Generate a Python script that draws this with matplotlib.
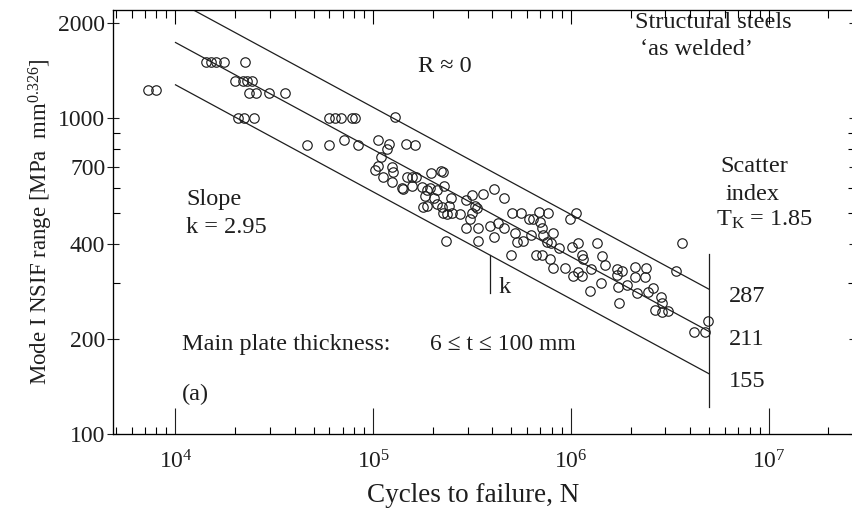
import numpy as np
import matplotlib
matplotlib.use("Agg")
import matplotlib.pyplot as plt
from matplotlib.ticker import FixedLocator, NullFormatter, LogLocator

plt.rcParams['font.family'] = ['Liberation Serif', 'DejaVu Serif']
plt.rcParams['mathtext.fontset'] = 'custom'
plt.rcParams['mathtext.rm'] = 'Liberation Serif'
plt.rcParams['mathtext.it'] = 'Liberation Serif:italic'

# test data: cycles to failure and NSIF range
cycles = [7.26e3, 7.97e3, 1.426e4, 1.512e4, 1.603e4, 1.759e4, 2.247e4, 2.0e4, 2.195e4, 2.3e4,
          2.437e4, 2.354e4, 2.554e4, 2.972e4, 3.581e4, 2.071e4, 2.221e4, 2.495e4, 4.625e4, 5.975e4,
          6.41e4, 6.873e4, 7.81e4, 8.088e4, 5.975e4, 7.118e4, 8.378e4, 1.057e5, 1.289e5, 1.202e5,
          1.174e5, 1.095e5, 1.021e5, 1.057e5, 1.121e5, 1.245e5, 1.259e5, 1.245e5, 1.465e5, 1.627e5,
          1.482e5, 1.571e5, 1.646e5, 1.398e5, 1.415e5, 1.571e5, 1.96e5, 2.202e5, 2.254e5, 1.766e5,
          1.871e5, 1.938e5, 2.102e5, 2.281e5, 1.828e5, 2.03e5, 2.475e5, 1.786e5, 1.871e5, 2.102e5,
          2.228e5, 2.418e5, 2.254e5, 2.362e5, 2.503e5, 2.748e5, 2.947e5, 3.16e5, 3.592e5, 4.083e5,
          4.587e5, 3.272e5, 3.35e5, 3.16e5, 3.087e5, 2.947e5, 3.388e5, 3.896e5, 4.278e5, 4.587e5,
          2.335e5, 3.388e5, 4.083e5, 4.977e5, 5.035e5, 5.592e5, 6.138e5, 6.431e5, 6.897e5, 7.658e5,
          6.978e5, 5.214e5, 5.337e5, 5.723e5, 6.283e5, 7.142e5, 7.226e5, 8.118e5, 7.569e5, 7.931e5,
          6.66e5, 7.142e5, 7.839e5, 8.7e5, 1.013e6, 1.086e6, 1.138e6, 1.151e6, 1.355e6, 1.437e6,
          1.487e6, 9.894e5, 1.061e6, 8.118e5, 9.335e5, 1.025e6, 1.086e6, 1.138e6, 1.264e6, 1.711e6,
          1.813e6, 1.711e6, 2.11e6, 2.398e6, 2.11e6, 2.37e6, 1.42e6, 1.249e6, 1.731e6, 1.921e6,
          1.751e6, 2.16e6, 2.455e6, 2.601e6, 2.855e6, 2.888e6, 2.662e6, 2.888e6, 3.098e6, 3.647e6,
          3.401e6, 4.195e6, 4.766e6, 4.936e6]
nsif = [1225, 1225, 1500, 1500, 1500, 1500, 1500, 1310, 1310, 1310,
        1310, 1200, 1200, 1200, 1200, 1000, 1000, 1000, 821, 1000,
        1000, 1000, 1000, 1000, 821, 852, 821, 852, 1007, 827,
        798, 753, 685, 705, 651, 700, 675, 627, 827, 821,
        651, 651, 651, 600, 596, 609, 670, 680, 675, 605,
        592, 600, 592, 609, 567, 558, 558, 523, 527, 534,
        523, 527, 500, 497, 500, 497, 550, 571, 575, 596,
        558, 527, 519, 500, 479, 449, 449, 455, 465, 449,
        408, 408, 420, 369, 500, 500, 479, 479, 504, 500,
        469, 433, 405, 408, 426, 449, 426, 433, 405, 402,
        369, 369, 358, 388, 391, 402, 369, 358, 402, 366,
        343, 479, 500, 335, 335, 316, 326, 316, 333, 333,
        328, 319, 338, 335, 314, 314, 300, 284, 292, 296,
        260, 279, 281, 290, 271, 260, 247, 243, 245, 402,
        328, 210, 210, 228]

# scatter band: values at N = 5e6, slope k
band_ref_N = 5e6
band_values = [287, 211, 155]
band_labels = ['287', '211', '155']
slope_k = 2.95
N_start = 1e4

fig = plt.figure(figsize=(8.53, 5.08), dpi=100)
ax = fig.add_axes([113 / 853, 74 / 508, 742 / 853, 424 / 508])
ax.set_xscale('log')
ax.set_yscale('log')
ax.set_xlim(4830, 2.73e7)
ax.set_ylim(100, 2198)

ink = '#1e1e1e'
ax.plot(cycles, nsif, 'o', ms=6.8, mfc='none', mec=ink, mew=0.85, zorder=3)

Nline = np.array([N_start, band_ref_N])
for val in band_values:
    ax.plot(Nline, val * (band_ref_N / Nline) ** (1 / slope_k), color=ink, lw=0.9)

# vertical line at end of band
ax.plot([band_ref_N, band_ref_N], [122, 370], color=ink, lw=0.9)
# slope marker
Nk = 3.9e5
ax.plot([Nk, Nk], [279, band_values[2] * (band_ref_N / Nk) ** (1 / slope_k)], color=ink, lw=0.9)

fs = 17.5
tkw = dict(transform=ax.transAxes, fontsize=fs, va='baseline', color=ink)
ax.text(0.7035, 0.958, 'Structural steels', **tkw)
ax.text(0.710, 0.894, '\u2018as welded\u2019', **tkw)
ax.text(0.411, 0.854, 'R \u2248 0', **tkw)
ax.text(0.818, 0.618, 'Scatter', **tkw)
ax.text(0.826, 0.552, 'index', **tkw)
ax.text(0.8127, 0.4906, r'T$_\mathrm{K}$ = 1.85', **tkw)
ax.text(0.0984, 0.540, 'Slope', **tkw)
ax.text(0.0984, 0.474, 'k = 2.95', **tkw)
ax.text(0.093, 0.198, 'Main plate thickness:', **tkw)
ax.text(0.427, 0.198, '6 \u2264 t \u2264 100 mm', fontsize=17, transform=ax.transAxes,
        va='baseline', color=ink)
ax.text(0.093, 0.080, '(a)', **tkw)
ax.text(0.519, 0.3325, 'k', **tkw)
for lab, fy in zip(band_labels, [0.311, 0.210, 0.111]):
    ax.text(0.830, fy, lab, **tkw)

# axes, ticks
ax.xaxis.set_major_locator(LogLocator(base=10, numticks=10))
ax.xaxis.set_minor_locator(LogLocator(base=10, subs=np.arange(2, 10), numticks=20))
ax.xaxis.set_minor_formatter(NullFormatter())
ax.yaxis.set_major_locator(FixedLocator([100, 200, 400, 700, 1000, 2000]))
ax.yaxis.set_minor_locator(FixedLocator([300, 500, 600, 800, 900]))
ax.yaxis.set_major_formatter(plt.FuncFormatter(lambda v, p: '%d' % v))
ax.yaxis.set_minor_formatter(NullFormatter())

ax.tick_params(axis='x', which='major', direction='in', length=19, width=0.8, labelsize=17, pad=12, colors=ink)
ax.tick_params(axis='x', which='minor', direction='in', length=5, width=0.8)
ax.tick_params(axis='y', which='major', direction='inout', length=9, width=0.8, labelsize=17, pad=1, colors=ink)
ax.tick_params(axis='y', which='minor', direction='in', length=5, width=0.8)
ax.tick_params(which='both', right=True)
for s in ax.spines.values():
    s.set_linewidth(0.9)
    s.set_color(ink)

# top axis ticks are shorter
top = ax.twiny()
top.set_xscale('log')
top.set_xlim(ax.get_xlim())
top.xaxis.set_minor_locator(LogLocator(base=10, subs=np.arange(2, 10), numticks=20))
top.tick_params(axis='x', which='major', direction='in', length=10, width=0.8, labeltop=False)
top.tick_params(axis='x', which='minor', direction='in', length=6, width=0.8)
top.xaxis.set_minor_formatter(NullFormatter())

ax.set_xlabel('Cycles to failure, N', fontsize=19.5, color=ink)
ax.xaxis.set_label_coords(0.485, -0.115)
ax.set_ylabel('Mode I NSIF range [MPa  mm$^{0.326}$]', fontsize=16.5, color=ink, labelpad=2)

fig.savefig('out.png', dpi=100, facecolor='white')
